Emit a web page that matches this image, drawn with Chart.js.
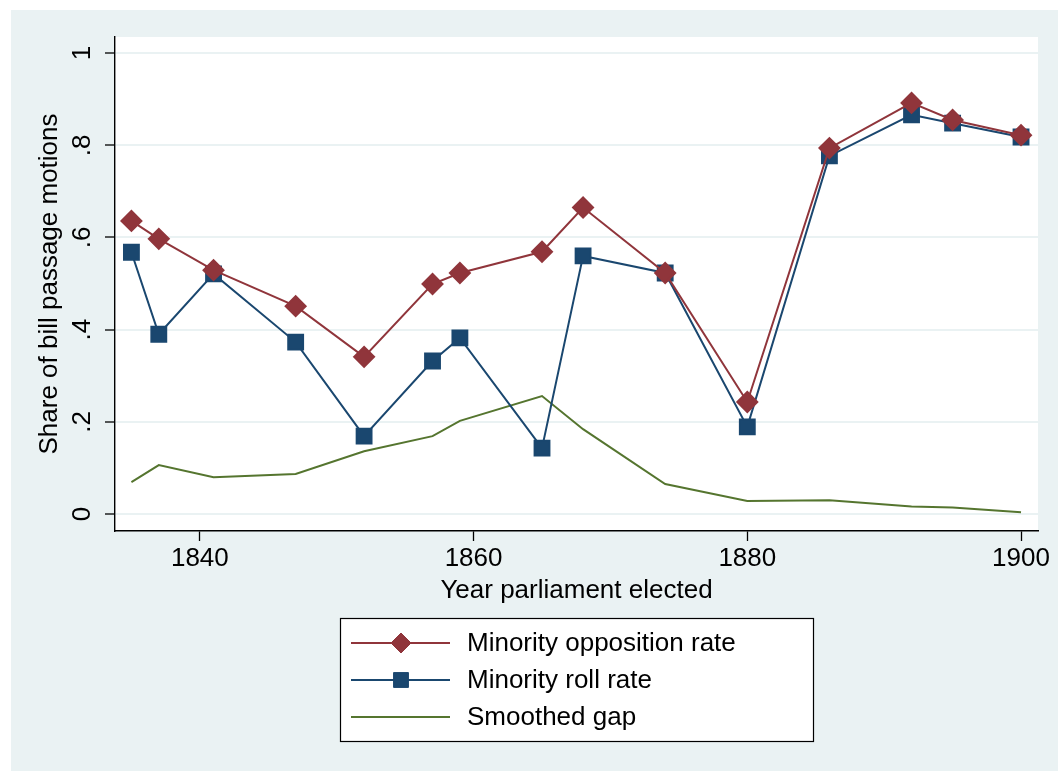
<!DOCTYPE html>
<html>
<head>
<meta charset="utf-8">
<script src="https://cdn.jsdelivr.net/npm/chart.js@4"></script>
<style>
  body { margin: 0; background: #fff; }
  #wrap { position: relative; width: 1058px; height: 771px; }
</style>
</head>
<body>
<div id="wrap"><canvas id="rollChart"></canvas></div>
<script>
// election years and rates
const years = [1835, 1837, 1841, 1847, 1852, 1857, 1859, 1865, 1868, 1874, 1880, 1886, 1892, 1895, 1900];
const oppositionRate = [0.636, 0.597, 0.529, 0.451, 0.341, 0.499, 0.523, 0.569, 0.665, 0.523, 0.243, 0.794, 0.892, 0.855, 0.822];
const rollRate = [0.568, 0.390, 0.521, 0.373, 0.169, 0.332, 0.382, 0.143, 0.560, 0.523, 0.189, 0.777, 0.866, 0.848, 0.818];
const smoothedGap = [0.069, 0.106, 0.080, 0.087, 0.136, 0.169, 0.202, 0.256, 0.184, 0.065, 0.028, 0.030, 0.016, 0.014, 0.004];
const xTicks = [1840, 1860, 1880, 1900];
const yTicks = [0, 0.2, 0.4, 0.6, 0.8, 1];
const yTickLabels = ['0', '.2', '.4', '.6', '.8', '1'];

const FONT = 'Arial, "Liberation Sans", sans-serif';
const BG = '#eaf2f3';

// paint stata-like graph region + white plot region
const backgroundPlugin = {
    id: 'stataBg',
    beforeDraw(chart) {
        const ctx = chart.ctx;
        const a = chart.chartArea;
        ctx.save();
        ctx.fillStyle = '#fff';
        ctx.fillRect(0, 0, chart.width, chart.height);
        ctx.fillStyle = BG;
        ctx.fillRect(11, 10, chart.width - 11, chart.height - 10);
        ctx.fillStyle = '#fff';
        ctx.fillRect(a.left, a.top, a.right - a.left, a.bottom - a.top);
        ctx.restore();
    }
};

// rotated y tick labels (stata style) and boxed legend under the plot
const extrasPlugin = {
    id: 'extras',
    afterDraw(chart) {
        const ctx = chart.ctx;
        const ys = chart.scales.y;
        ctx.save();
        ctx.fillStyle = '#000';
        ctx.font = '26px ' + FONT;
        ctx.textAlign = 'center';
        ctx.textBaseline = 'alphabetic';
        ys.ticks.forEach(t => {
            const idx = yTicks.indexOf(t.value);
            const label = idx >= 0 ? yTickLabels[idx] : '';
            const py = ys.getPixelForValue(t.value);
            ctx.save();
            ctx.translate(90, py);
            ctx.rotate(-Math.PI / 2);
            ctx.fillText(label, 0, 0);
            ctx.restore();
        });

        // legend box
        const bx = 340, by = 618, bw = 473, bh = 123;
        ctx.fillStyle = '#fff';
        ctx.fillRect(bx, by, bw, bh);
        ctx.strokeStyle = '#000';
        ctx.lineWidth = 1.2;
        ctx.strokeRect(bx + 0.5, by + 0.5, bw, bh);
        const rows = [643, 680, 717];
        chart.data.datasets.forEach((ds, i) => {
            const y = rows[i];
            ctx.strokeStyle = ds.borderColor;
            ctx.lineWidth = 2;
            ctx.beginPath();
            ctx.moveTo(351, y);
            ctx.lineTo(450, y);
            ctx.stroke();
            if (ds.pointRadius > 0) {
                ctx.fillStyle = ds.pointBackgroundColor;
                ctx.strokeStyle = ds.pointBorderColor;
                ctx.lineWidth = 1;
                Chart.helpers.drawPoint(ctx, { pointStyle: ds.pointStyle, radius: ds.pointRadius, rotation: 0, borderWidth: 1 }, 401, y);
            }
            ctx.fillStyle = '#000';
            ctx.font = '26px ' + FONT;
            ctx.textAlign = 'left';
            ctx.textBaseline = 'middle';
            ctx.fillText(ds.label, 467, y + 1);
        });
        ctx.restore();
    }
};

const ctx = document.getElementById('rollChart').getContext('2d');
new Chart(ctx, {
    type: 'line',
    data: {
        labels: years,
        datasets: [
            {
                label: 'Minority opposition rate',
                data: years.map((yr, i) => ({ x: yr, y: oppositionRate[i] })),
                borderColor: '#90353b',
                backgroundColor: '#90353b',
                pointBackgroundColor: '#90353b',
                pointBorderColor: '#90353b',
                pointStyle: 'rectRot',
                pointRadius: 10,
                borderWidth: 2,
                tension: 0
            },
            {
                label: 'Minority roll rate',
                data: years.map((yr, i) => ({ x: yr, y: rollRate[i] })),
                borderColor: '#1a476f',
                backgroundColor: '#1a476f',
                pointBackgroundColor: '#1a476f',
                pointBorderColor: '#1a476f',
                pointStyle: 'rect',
                pointRadius: 10.5,
                borderWidth: 2,
                tension: 0
            },
            {
                label: 'Smoothed gap',
                data: years.map((yr, i) => ({ x: yr, y: smoothedGap[i] })),
                borderColor: '#55752f',
                backgroundColor: '#55752f',
                pointRadius: 0,
                borderWidth: 2,
                tension: 0
            }
        ]
    },
    options: {
        responsive: true,
        maintainAspectRatio: false,
        animation: false,
        events: [],
        layout: { padding: { left: 0, top: 37, right: 20, bottom: 165 } },
        plugins: {
            legend: { display: false },
            tooltip: { enabled: false }
        },
        scales: {
            x: {
                type: 'linear',
                min: 1833.8,
                max: 1901.24,
                afterBuildTicks: scale => { scale.ticks = xTicks.map(v => ({ value: v })); },
                afterFit: scale => { scale.height = 75; },
                ticks: {
                    color: '#000',
                    padding: 2,
                    maxRotation: 0,
                    font: { family: FONT, size: 26 },
                    callback: v => String(v)
                },
                grid: { drawOnChartArea: false, drawTicks: true, tickLength: 10, tickColor: '#000', tickWidth: 1.3 },
                border: { display: true, color: '#000', width: 1.4 },
                title: {
                    display: true,
                    text: 'Year parliament elected',
                    color: '#000',
                    font: { family: FONT, size: 26 },
                    padding: { top: 0, bottom: 0 }
                }
            },
            y: {
                min: -0.0369,
                max: 1.035,
                afterBuildTicks: scale => { scale.ticks = yTicks.map(v => ({ value: v })); },
                afterFit: scale => { scale.width = 115; },
                ticks: { display: false },
                grid: { color: BG, lineWidth: 2, drawTicks: true, tickLength: 10, tickColor: '#000', tickWidth: 1.3 },
                border: { display: true, color: '#000', width: 1.4 },
                title: {
                    display: true,
                    text: 'Share of bill passage motions',
                    color: '#000',
                    font: { family: FONT, size: 26 },
                    padding: { top: 34, bottom: 0 }
                }
            }
        }
    },
    plugins: [backgroundPlugin, extrasPlugin]
});
</script>
</body>
</html>
